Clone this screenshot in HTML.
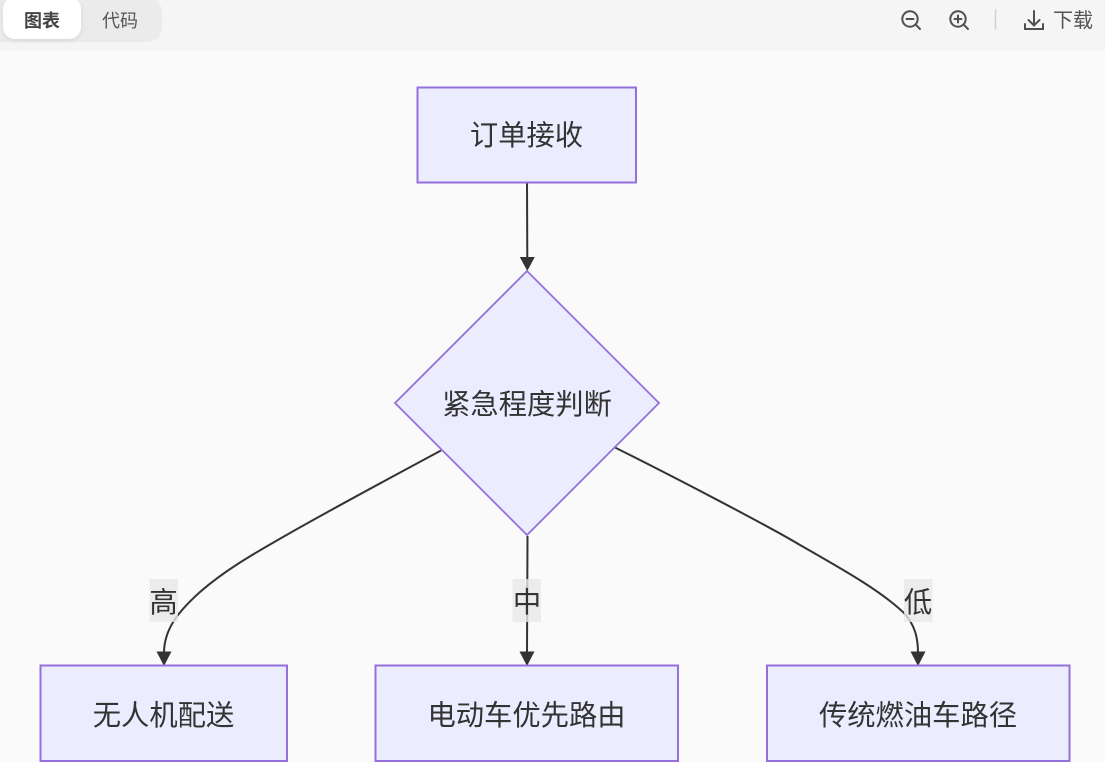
<!DOCTYPE html>
<html lang="zh">
<head>
<meta charset="utf-8">
<style>
html,body{margin:0;padding:0;background:#fafafa;}
body{width:1105px;height:762px;overflow:hidden;position:relative;font-family:"Liberation Sans","Noto Sans CJK SC",sans-serif;}
.bar{position:absolute;left:0;top:0;width:1105px;height:51px;background:#f5f5f5;}
.tabs{position:absolute;left:0;top:-2px;width:162px;height:44px;background:#ebebeb;border-radius:0 14px 14px 0;}
.active{position:absolute;left:3px;top:-3px;width:78px;height:42px;background:#fff;border-radius:12px;box-shadow:0 2px 6px rgba(0,0,0,.08);}
.t{position:absolute;font-size:18px;line-height:24px;color:#555;white-space:nowrap;}
svg{position:absolute;left:0;top:0;}
</style>
</head>
<body>
<div class="bar"></div>
<div class="tabs"></div>
<div class="active"></div>
<div class="t" style="left:24px;top:9px;font-weight:700;color:#444;">图表</div>
<div class="t" style="left:102px;top:9px;">代码</div>
<div class="t" style="left:1053px;top:9px;font-size:20px;">下载</div>
<svg width="1105" height="762" viewBox="0 0 1105 762" xmlns="http://www.w3.org/2000/svg">
  <g fill="none" stroke="#505050" stroke-width="2" stroke-linecap="round">
    <circle cx="910" cy="19" r="7.7"/><path d="M915.7 24.7L920 29M906.5 19H913.5"/>
    <circle cx="958" cy="19" r="7.7"/><path d="M963.7 24.7L968 29M954.5 19H961.5M958 15.5V22.500"/>
    <path d="M1034 11V25M1028.500 20L1034 25.500L1039.500 20M1025 24V29H1043V24"/>
  </g>
  <path d="M995.500 9.500V29.500" stroke="#d0d0d0" stroke-width="1.500"/>

  <g fill="none" stroke="#333" stroke-width="2">
    <path d="M527 183C527 210 527.300 235 527.300 258"/>
    <path d="M441 450.500C390 478 330 510 283 537C255 553 225 570 200 592C180 610 164 628 164 653"/>
    <path d="M527.500 536L527 653"/>
    <path d="M615 447.500C680 480 770 527 800 545C840 568 880 590 904 613C915 625 918 638 918 653"/>
  </g>
  <g fill="#333">
    <path d="M519.800 257H534.800L527.300 271Z"/>
    <path d="M156.500 651.500H171.500L164 666Z"/>
    <path d="M519.500 651.500H534.500L527 666Z"/>
    <path d="M910.500 651.500H925.500L918 666Z"/>
  </g>

  <g fill="#ececff" stroke="#9370db" stroke-width="2">
    <rect x="417.500" y="87.500" width="218.500" height="95"/>
    <path d="M527 271L659 403L527 535L395 403Z" stroke-width="1.800"/>
    <rect x="40.500" y="665.500" width="246.500" height="95.500"/>
    <rect x="375.500" y="665.500" width="302.500" height="95.500"/>
    <rect x="767" y="665.500" width="302.500" height="95.500"/>
  </g>

  <g fill="#e8e8e8" fill-opacity=".8">
    <rect x="149.500" y="579" width="28.500" height="43"/>
    <rect x="512.500" y="579" width="28.500" height="43"/>
    <rect x="904" y="579" width="28.500" height="43"/>
  </g>

  <g font-family="'Liberation Sans','Noto Sans CJK SC',sans-serif" font-size="28.300" fill="#333" text-anchor="middle">
    <text x="526.500" y="145">订单接收</text>
    <text x="527" y="414">紧急程度判断</text>
    <text x="163.500" y="725">无人机配送</text>
    <text x="526.500" y="725">电动车优先路由</text>
    <text x="918" y="725">传统燃油车路径</text>
    <text x="163.500" y="612">高</text>
    <text x="527" y="612">中</text>
    <text x="918" y="612">低</text>
  </g>
</svg>
</body>
</html>
